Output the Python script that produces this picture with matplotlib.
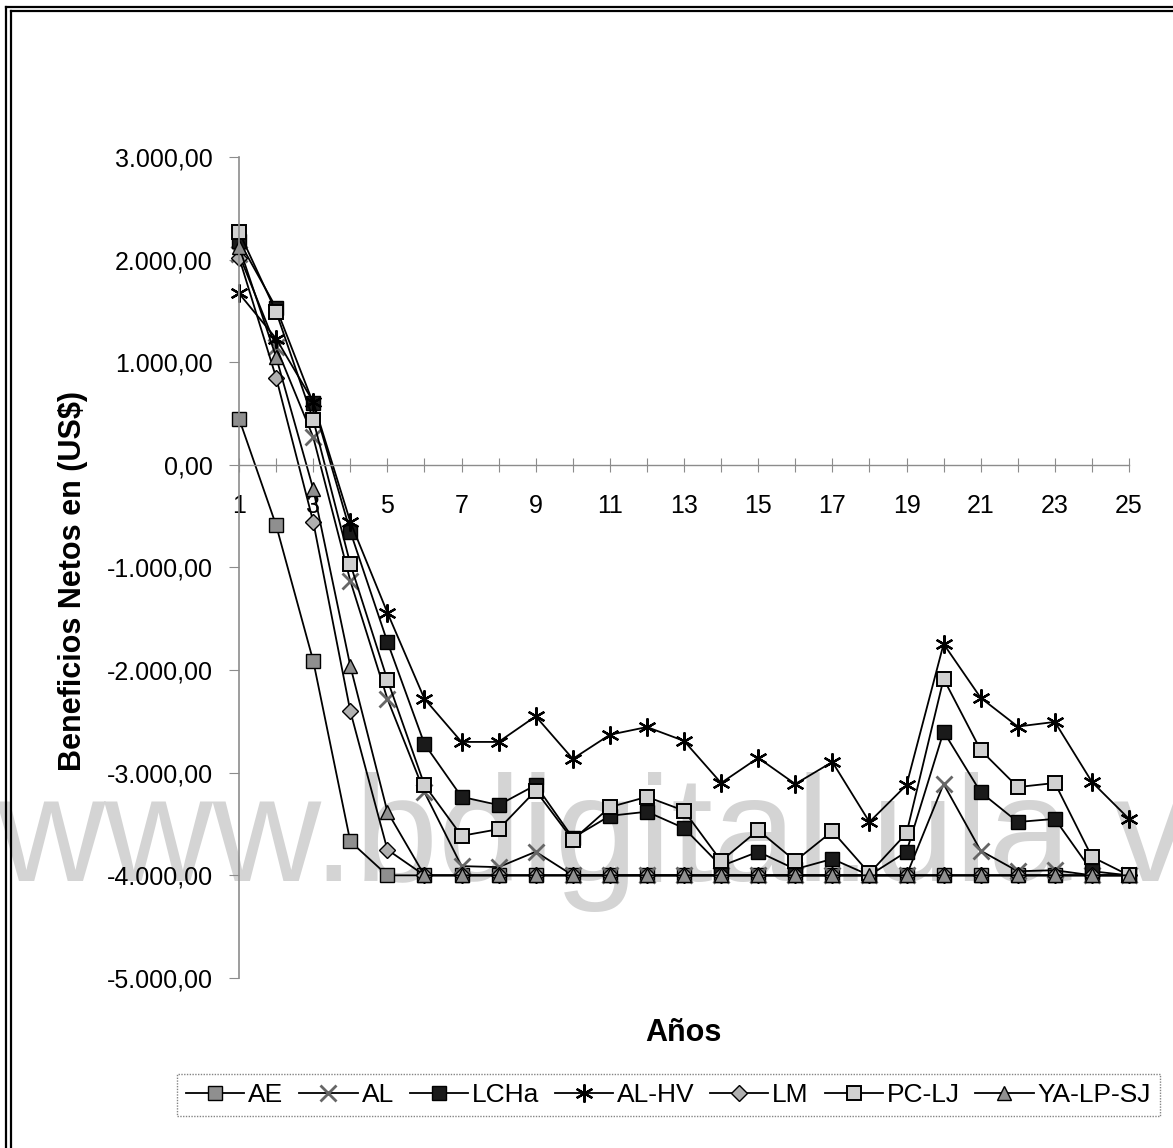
import numpy as np
import matplotlib
matplotlib.use("Agg")
import matplotlib.pyplot as plt
from matplotlib.ticker import FuncFormatter, MultipleLocator
from matplotlib.lines import Line2D

plt.rcParams['font.family'] = ['Liberation Sans', 'DejaVu Sans']

# Beneficios netos (US$) por año
years = list(range(1, 26))
ae = [450, -590, -1910, -3670, -4000] + [-4000] * 20
al = [2050, 1150, 270, -1130, -2280, -3190, -3910, -3920, -3770, -4000,
      -4000, -4000, -4000, -4000, -4000, -4000, -4000, -4000, -4000, -3110,
      -3760, -3960, -3950, -4000, -4000]
lcha = [2180, 1530, 600, -650, -1725, -2720, -3235, -3315, -3120, -3635,
        -3420, -3380, -3540, -3910, -3770, -3940, -3840, -4000, -3770, -2600,
        -3190, -3480, -3450, -3960, -4000]
al_hv = [1670, 1230, 614, -555, -1440, -2280, -2700, -2700, -2450, -2865,
         -2630, -2555, -2690, -3100, -2855, -3110, -2895, -3480, -3120, -1745,
         -2270, -2550, -2505, -3090, -3450]
lm = [2020, 850, -555, -2400, -3750] + [-4000] * 20
pc_lj = [2270, 1490, 440, -965, -2095, -3120, -3615, -3550, -3175, -3655,
         -3335, -3235, -3370, -3860, -3560, -3860, -3570, -3980, -3590, -2085,
         -2780, -3140, -3100, -3820, -4000]
ya_lp_sj = [2125, 1050, -235, -1960, -3380] + [-4000] * 20

series = [
    ("AE", ae, dict(marker='s', mfc='#8f8f8f', mec='black', ms=10)),
    ("AL", al, dict(marker='x', mfc='#777777', mec='#666666', ms=11, mew=2)),
    ("LCHa", lcha, dict(marker='s', mfc='#1a1a1a', mec='black', ms=10)),
    ("AL-HV", al_hv, dict(marker=(6, 2, 0), mfc='black', mec='black', ms=13, mew=1.6)),
    ("LM", lm, dict(marker='D', mfc='#b0b0b0', mec='black', ms=8)),
    ("PC-LJ", pc_lj, dict(marker='s', mfc='#d0d0d0', mec='black', ms=10, mew=1.4)),
    ("YA-LP-SJ", ya_lp_sj, dict(marker='^', mfc='#909090', mec='black', ms=10)),
]

fig = plt.figure(figsize=(11.73, 11.48), dpi=100)
ax = fig.add_axes([0.2038, 0.1481, 0.7587, 0.7152])
ax.patch.set_visible(False)

# marca de agua
fig.text(-0.003, 0.233, "www.bdigital.ula.ve", fontsize=108, color='#d4d4d4',
         ha='left', va='baseline', zorder=-1)

for name, vals, st in series:
    ax.plot(years, vals, color='black', lw=1.3, label=name, clip_on=False, **st)

ax.set_xlim(1, 25)
ax.set_ylim(-5000, 3000)

for s in ['top', 'right']:
    ax.spines[s].set_visible(False)
ax.spines['left'].set_color('#8c8c8c')
ax.spines['left'].set_linewidth(1.2)
ax.spines['bottom'].set_position(('data', 0))
ax.spines['bottom'].set_color('#8c8c8c')
ax.spines['bottom'].set_linewidth(1.0)
ax.spines['bottom'].set_linestyle((0, (3, 1)))

ax.xaxis.set_major_locator(MultipleLocator(1))
ax.xaxis.set_major_formatter(FuncFormatter(lambda v, p: f"{int(v)}" if int(v) % 2 == 1 else ""))
ax.tick_params(axis='x', direction='inout', length=10, color='#8c8c8c',
               labelsize=18, pad=16)

ax.yaxis.set_major_locator(MultipleLocator(1000))
def fmt_y(v, p):
    s = f"{abs(v):,.2f}".replace(",", "X").replace(".", ",").replace("X", ".")
    return ("-" if v < 0 else "") + s
ax.yaxis.set_major_formatter(FuncFormatter(fmt_y))
ax.tick_params(axis='y', direction='out', length=7, color='#8c8c8c',
               labelsize=18, pad=12)

fig.text(0.062, 0.494, "Beneficios Netos en (US$)", rotation=90, fontsize=22,
         fontweight='bold', ha='center', va='center')
fig.text(0.583, 0.100, "Años", fontsize=22, fontweight='bold',
         ha='center', va='center')

leg = fig.legend(loc='center', bbox_to_anchor=(0.570, 0.046), ncol=7,
                 fontsize=19, frameon=True, fancybox=False, handlelength=2.2,
                 handletextpad=0.15, columnspacing=0.6, borderpad=0.35,
                 borderaxespad=0)
leg.get_frame().set_edgecolor('#666666')
leg.get_frame().set_linestyle((0, (1, 1)))
leg.get_frame().set_linewidth(1.0)

# marco doble del borde
for x in (0.0055, 0.0090):
    fig.add_artist(Line2D([x, x], [0, 1 - 0.0065 if x < 0.007 else 1 - 0.0095],
                          transform=fig.transFigure, color='black', lw=1.6))
for y, x0 in ((1 - 0.0062, 0.0055), (1 - 0.0098, 0.0090)):
    fig.add_artist(Line2D([x0, 1], [y, y], transform=fig.transFigure,
                          color='black', lw=1.6))

fig.savefig("out.png", dpi=100)
